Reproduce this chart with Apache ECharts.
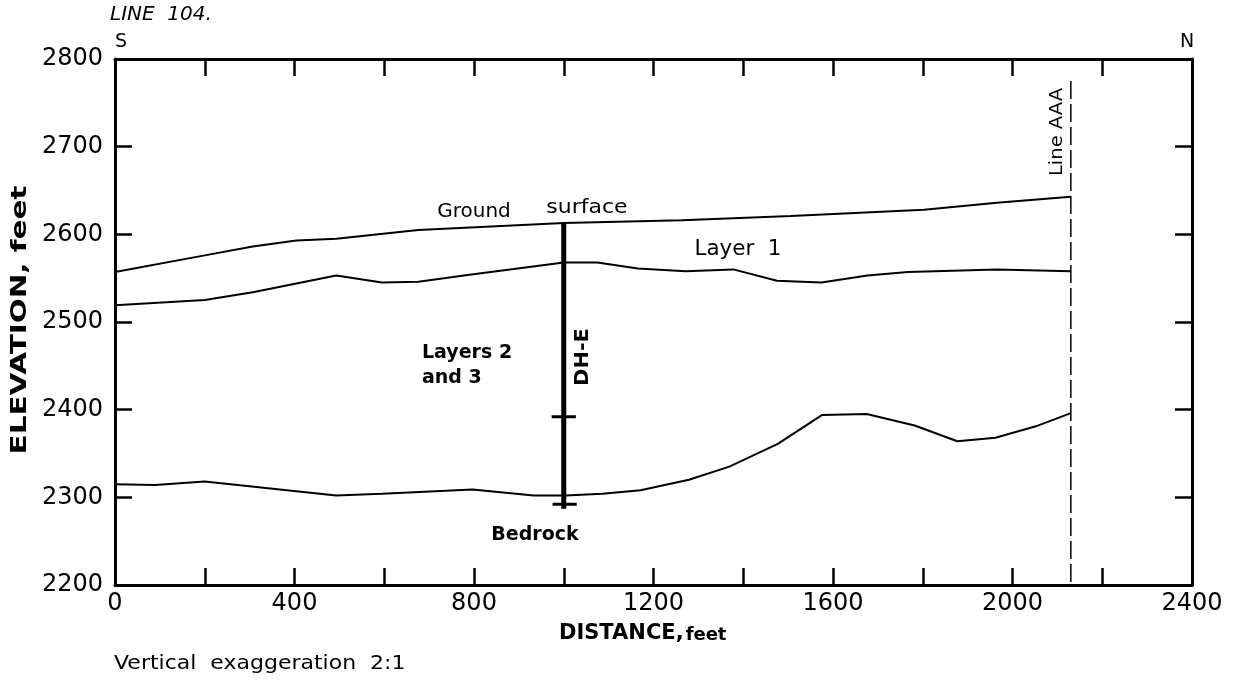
<!DOCTYPE html>
<html><head><meta charset="utf-8">
<script src="https://cdn.jsdelivr.net/npm/echarts@6/dist/echarts.min.js"></script>
<style>html,body{margin:0;padding:0;background:#fff}#c{width:1234px;height:680px}</style>
</head><body><div id="c"></div>
<script>
// ---- data (feet) ----
const groundDist = [0, 200, 307, 404, 493, 676, 1000, 1263, 1506, 1803, 1965, 2130];
const groundElev = [2557, 2576, 2586, 2593, 2595, 2605, 2613, 2616, 2621, 2628, 2636, 2643];

const layer1Dist = [0, 200, 307, 493, 595, 676, 790, 1000, 1075, 1165, 1272, 1378, 1475, 1574, 1677, 1767, 1965, 2130];
const layer1Elev = [2519, 2525, 2534, 2553, 2545, 2546, 2554, 2568, 2568, 2561, 2558, 2560, 2547, 2545, 2553, 2557, 2560, 2558];

const bedrockDist = [0, 89, 200, 493, 595, 797, 933, 1004, 1086, 1171, 1279, 1369, 1477, 1576, 1675, 1782, 1877, 1962, 2052, 2130];
const bedrockElev = [2315, 2314, 2318, 2302, 2304, 2309, 2302, 2302, 2304, 2308, 2320, 2335, 2361, 2394, 2395, 2382, 2364, 2368, 2381, 2396];

const lineAAADist = [2130, 2130];
const lineAAAElev = [2775, 2200];

const boreholeDist = [1000, 1000];
const boreholeElev = [2613, 2287];
const boreMark1Dist = [973, 1027];
const boreMark1Elev = [2392, 2392];
const boreMark2Dist = [975, 1029];
const boreMark2Elev = [2292, 2292];

const xLabelValues = [0, 400, 800, 1200, 1600, 2000, 2400];
const yLabelValues = [2200, 2300, 2400, 2500, 2600, 2700, 2800];

const zip = (a, b) => a.map((v, i) => [v, b[i]]);
const FF = '"DejaVu Sans", sans-serif';

const chart = echarts.init(document.getElementById('c'), null, {renderer: 'canvas'});

function xAx(pos, showLabel) {
  return {
    type: 'value', position: pos, min: 0, max: 2400, interval: 200,
    axisLine: {show: true, onZero: false, lineStyle: {color: '#000', width: 3}},
    axisTick: {show: true, inside: true, length: 17, lineStyle: {color: '#000', width: 2.5}},
    splitLine: {show: false},
    axisLabel: {
      show: showLabel, color: '#000', fontSize: 24, fontFamily: FF, margin: 7,
      formatter: v => xLabelValues.indexOf(v) >= 0 ? String(v) : ''
    }
  };
}
function yAx(pos, showLabel) {
  return {
    type: 'value', position: pos, min: 2200, max: 2800, interval: 100,
    axisLine: {show: true, onZero: false, lineStyle: {color: '#000', width: 3}},
    axisTick: {show: true, inside: true, length: 17, lineStyle: {color: '#000', width: 2.5}},
    splitLine: {show: false},
    axisLabel: {
      show: showLabel, color: '#000', fontSize: 24, fontFamily: FF, margin: 12,
      formatter: v => yLabelValues.indexOf(v) >= 0 ? String(v) : ''
    }
  };
}

function lineSeries(data, width, type) {
  return {
    type: 'line', data: data,
    showSymbol: false, symbol: 'none', smooth: false, silent: true,
    lineStyle: {color: '#000', width: width, type: type || 'solid'},
    z: 3
  };
}

function txt(text, x, y, opts) {
  opts = opts || {};
  return {
    type: 'text', x: x, y: y,
    rotation: opts.rotation || 0,
    scaleX: opts.scaleX || 1, scaleY: 1,
    style: {
      text: text, fill: '#000',
      fontFamily: FF, fontSize: opts.size || 19,
      fontWeight: opts.weight || 'normal', fontStyle: opts.style || 'normal',
      align: opts.align || 'center', verticalAlign: 'middle',
      lineHeight: opts.lineHeight || undefined
    },
    z: 10
  };
}

const option = {
  animation: false,
  backgroundColor: '#fff',
  grid: {left: 115, top: 59, width: 1077, height: 526, containLabel: false},
  xAxis: [xAx('bottom', true), xAx('top', false)],
  yAxis: [yAx('left', true), yAx('right', false)],
  series: [
    lineSeries(zip(groundDist, groundElev), 2),
    lineSeries(zip(layer1Dist, layer1Elev), 2),
    lineSeries(zip(bedrockDist, bedrockElev), 2),
    lineSeries(zip(lineAAADist, lineAAAElev), 1.5, [18, 5]),
    lineSeries(zip(boreholeDist, boreholeElev), 5),
    lineSeries(zip(boreMark1Dist, boreMark1Elev), 3),
    lineSeries(zip(boreMark2Dist, boreMark2Elev), 3)
  ],
  graphic: [
    txt('LINE  104.', 110, 15, {style: 'italic', size: 20, align: 'left'}),
    txt('S', 121, 42, {size: 19}),
    txt('N', 1187, 42, {size: 19}),
    txt('ELEVATION, feet', 21, 320, {weight: 'bold', size: 21, rotation: Math.PI / 2, scaleX: 1.4}),
    {
      type: 'text', x: 559, y: 634, z: 10,
      style: {
        text: '{a|DISTANCE,}{b|feet}', fill: '#000', align: 'left', verticalAlign: 'middle',
        rich: {
          a: {fontFamily: FF, fontWeight: 'bold', fontSize: 21, fill: '#000'},
          b: {fontFamily: FF, fontWeight: 'bold', fontSize: 18, fill: '#000', padding: [3, 0, 0, 2]}
        }
      }
    },
    txt('Vertical  exaggeration  2:1', 114, 664, {size: 20, align: 'left', scaleX: 1.1}),
    txt('Ground', 474, 212, {size: 20}),
    txt('surface', 587, 208, {size: 20, scaleX: 1.1}),
    txt('Layer  1', 738, 250, {size: 21, scaleX: 1.02}),
    txt('Layers 2\nand 3', 422, 366, {weight: 'bold', size: 19, align: 'left', lineHeight: 25}),
    txt('DH-E', 583, 357, {weight: 'bold', size: 19, rotation: Math.PI / 2, scaleX: 1.1}),
    txt('Bedrock', 535, 535, {weight: 'bold', size: 19}),
    txt('Line AAA', 1058, 132, {size: 17, rotation: Math.PI / 2, scaleX: 1.15})
  ]
};
chart.setOption(option);
</script></body></html>
